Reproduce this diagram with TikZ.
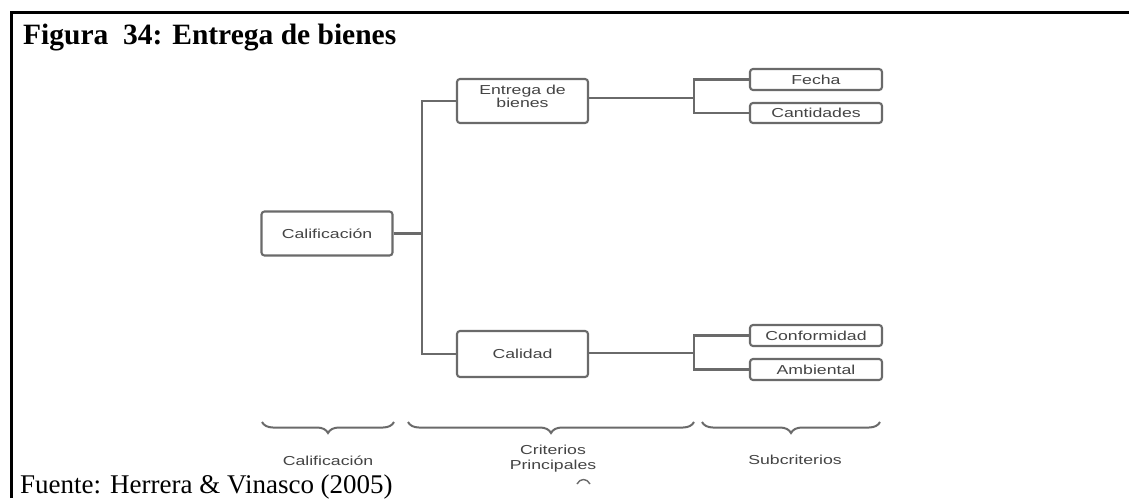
\documentclass[tikz,border=0pt]{standalone}
\usepackage{fontspec}
\setmainfont{Liberation Serif}
\setsansfont{Liberation Sans}
\usetikzlibrary{decorations.pathreplacing}
\definecolor{linegray}{HTML}{6A6A6A}
\definecolor{textgray}{HTML}{444444}
% diagram text is set wide
\newcommand{\wide}[1]{\scalebox{1.36}[1]{#1}}
\begin{document}
\begin{tikzpicture}[x=1pt,y=-1pt,
  box/.style={draw=linegray, line width=2.1pt, rounded corners=3pt, text=textgray,
    font=\sffamily\fontsize{13}{13}\selectfont, inner sep=0pt, align=center},
  bigbox/.style={box, minimum width=131pt, minimum height=44pt},
  smallbox/.style={box, minimum width=132pt, minimum height=21pt},
  link/.style={draw=linegray, line width=2.1pt},
  bracebar/.style={draw=linegray, line width=2pt,
    decorate, decoration={brace, mirror, amplitude=11pt}},
  level/.style={text=textgray, font=\sffamily\fontsize{13}{15}\selectfont, align=center}]
\useasboundingbox (0,0) rectangle (1129,498);
\fill[white] (0,0) rectangle (1129,498);

% frame
\draw[line width=3pt] (11,498) -- (11,12) -- (1129,12);

% caption and source
\node[anchor=base west, inner sep=0pt, font=\bfseries\fontsize{29.5}{30}\selectfont] (title) at (23,44) {Figura\ \ 34: Entrega de bienes};
\node[anchor=base west, inner sep=0pt, font=\fontsize{27}{30}\selectfont] (source) at (20,493) {Fuente: Herrera \& Vinasco (2005)};

% boxes
\node[bigbox] (cal) at (327,233.5) {\wide{Calificación}};
\node[bigbox] (ent) at (522.5,101) {\wide{Entrega de}\\[0pt]\wide{bienes}\\[-4pt]};
\node[bigbox, minimum height=46pt] (calid) at (522.5,354) {\wide{Calidad}};
\node[smallbox] (fecha) at (816,79.5) {\wide{Fecha}};
\node[smallbox, minimum height=20pt] (cant) at (816,113) {\wide{Cantidades}};
\node[smallbox] (conf) at (816,335.5) {\wide{Conformidad}};
\node[smallbox] (amb) at (816,369.5) {\wide{Ambiental}};

% connectors
\coordinate (trunk) at (422,233.5);
\coordinate (forkA) at (694,98);
\coordinate (forkB) at (694,353);
\draw[link] (cal.east) -- (trunk);
\draw[link] (ent.west) -| (trunk) |- (calid.west);
\draw[link] (ent.east |- forkA) -- (forkA);
\draw[link] (fecha.west) -| (forkA) |- (cant.west);
\draw[link] (calid.east |- forkB) -- (forkB);
\draw[link] (conf.west) -| (forkB) |- (amb.west);

% level braces
\coordinate (b1a) at (262,422); \coordinate (b1b) at (394,422);
\coordinate (b2a) at (408,422); \coordinate (b2b) at (694,422);
\coordinate (b3a) at (702,422); \coordinate (b3b) at (880,422);
\draw[bracebar] (b1a) -- (b1b);
\draw[bracebar] (b2a) -- (b2b);
\draw[bracebar] (b3a) -- (b3b);
\node[level] (lcal) at (328,461) {\wide{Calificación}};
\node[level] (lcrit) at (553,459) {\wide{Criterios}\\\wide{Principales}};
\node[level] (lsub) at (795,460) {\wide{Subcriterios}};
\draw[link, line width=1.4pt] (577,484) .. controls (580,478) and (587,478) .. (590,484);
\end{tikzpicture}
\end{document}
